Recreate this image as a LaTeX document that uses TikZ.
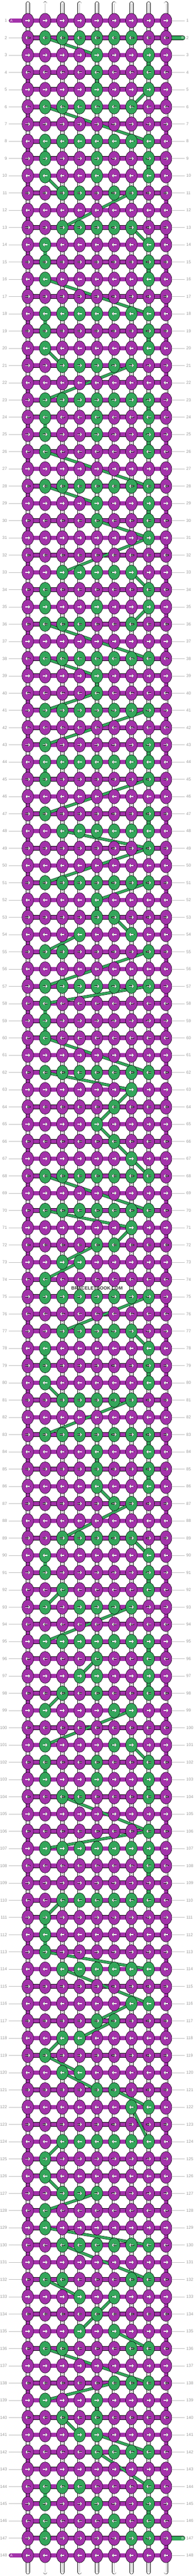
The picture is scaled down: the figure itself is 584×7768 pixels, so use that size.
\documentclass[tikz,border=0pt]{standalone}
\usepackage{fontspec}
\setmainfont{Liberation Sans}
\usetikzlibrary{shapes.geometric,arrows.meta}
\definecolor{strA}{HTML}{A332AA}
\definecolor{strB}{HTML}{33A65A}
\definecolor{numgray}{HTML}{999999}
\definecolor{linegray}{HTML}{BBBBBB}
\definecolor{wmgray}{HTML}{3A3A3A}
\pgfdeclarelayer{bg}
\pgfdeclarelayer{mid}
\pgfsetlayers{bg,mid,main}
\tikzset{
  knot/.style={ellipse, draw=black, line width=0.9pt, minimum width=35pt, minimum height=44pt, inner sep=0pt},
  warp/.style={draw=black, line width=1pt, double=white, double distance=10pt},
  warpline/.style={draw=linegray, line width=0.6pt},
  turnA/.style={draw=black, line width=1pt, double=strA, double distance=10pt},
  turnB/.style={draw=black, line width=1pt, double=strB, double distance=10pt},
  weft/.style={draw=black, line width=0.7pt, double=strA, double distance=12pt},
  weftB/.style={draw=black, line width=0.7pt, double=strB, double distance=12pt},
  band/.style={draw=black, line width=0.8pt, double=strB, double distance=7pt},
  arrowout/.style={black, line width=3.6pt, -{Straight Barb[length=4pt,width=9pt]}},
  arrowin/.style={white, line width=2.2pt, -{Straight Barb[length=4pt,width=9pt]}},
  num/.style={text=numgray, font=\fontsize{12.5}{14}\selectfont, inner sep=0pt, outer xsep=5pt},
  rowline/.style={draw=linegray, line width=0.8pt},
  endlabel/.style={text=white, font=\fontsize{10.5}{12}\selectfont, inner sep=0pt}
}
\begin{document}
\begin{tikzpicture}[x=1pt, y=-1pt]
\useasboundingbox (0,0) rectangle (584,7768);
\begin{pgfonlayer}{bg}
\fill[white] (0,0) rectangle (584,7768);
\end{pgfonlayer}

\foreach \rw/\gl in {1/{0}, 2/{2,3,4,5,6,7}, 3/{5,8}, 4/{5,8}, 5/{5,8}, 6/{2,3,4,5,6,7}, 7/{0}, 8/{2,3,4,5,6,7,8},
  9/{2,5,8}, 10/{2,5,8}, 11/{3,4,6,7}, 12/{0}, 13/{3,4,5,6,7}, 14/{2,8}, 15/{2,8}, 16/{2,8}, 17/{0},
  18/{2,3,4,5,6,7,8}, 19/{2,8}, 20/{2,8}, 21/{3,4,5,6,7}, 22/{0}, 23/{2,3,4,5,6,7,8}, 24/{2,5,8},
  25/{2,5,8}, 26/{2,8}, 27/{0}, 28/{2,3,4,5,6,7,8}, 29/{5,8}, 30/{5,8}, 31/{8}, 32/{0}, 33/{3,4,5,6,7},
  34/{2,8}, 35/{2,5,8}, 36/{2,3,4,7}, 37/{0}, 38/{2,3,4,5,6,7,8}, 39/{5}, 40/{5}, 41/{2,3,4,5,6,7,8},
  42/{0}, 43/{2,8}, 44/{2,3,4,5,6,7,8}, 45/{2,8}, 46/{0}, 47/{2,8}, 48/{3,4,5,6,7,8}, 49/{8}, 50/{0},
  51/{2,3,4,5,6,7,8}, 52/{5}, 53/{5,6}, 54/{4,7}, 55/{2,3,8}, 56/{0}, 57/{2,3,4,5,6,7,8}, 58/{2},
  59/{2}, 60/{2}, 61/{0}, 62/{2,3,4,5,6,7,8}, 63/{7}, 64/{6}, 65/{5}, 66/{6}, 67/{7}, 68/{2,3,4,5,6,7,8},
  69/{0}, 70/{2,3,4,5,6,7,8}, 71/{7}, 72/{5,6}, 73/{3,4}, 74/{2}, 75/{2,3,4,5,6,7,8}, 76/{0},
  77/{3,4,5,6,7}, 78/{2,8}, 79/{2,8}, 80/{2,8}, 81/{3,4,5,6,7}, 82/{0}, 83/{2,3,4,5,6,7,8}, 84/{5,8},
  85/{5,8}, 86/{5,8}, 87/{6,7}, 88/{0}, 89/{3,4,5,6,7}, 90/{2,8}, 91/{2,8}, 92/{3,8}, 93/{2,4,5,6,7},
  94/{0}, 95/{2,3,4,5,6,7,8}, 96/{5,8}, 97/{4,5,8}, 98/{3,5,8}, 99/{2,6,7}, 100/{0}, 101/{2,6,7},
  102/{2,5,8}, 103/{2,5,8}, 104/{3,4,8}, 105/{0}, 106/{8}, 107/{2,3,4,5,6,7,8}, 108/{8}, 109/{0},
  110/{3,4,5,6,7,8}, 111/{2}, 112/{2}, 113/{2}, 114/{3,4,5,6,7,8}, 115/{0}, 116/{7,8}, 117/{5,6},
  118/{3,4}, 119/{2}, 120/{3,4}, 121/{5,6}, 122/{7,8}, 123/{0}, 124/{3,4,5,6,7,8}, 125/{2}, 126/{2},
  127/{3,4,5}, 128/{2}, 129/{2}, 130/{3,4,5,6,7,8}, 131/{0}, 132/{2,3,7,8}, 133/{4,6}, 134/{5},
  135/{4,6}, 136/{2,3,7,8}, 137/{0}, 138/{6,7,8}, 139/{2,5}, 140/{3,5}, 141/{4,5}, 142/{5,6,7,8},
  143/{0}, 144/{2,3,4,8}, 145/{2,5,8}, 146/{2,6,8}, 147/{2,7,8}, 148/{0}}
  {\foreach \cl in \gl {\expandafter\xdef\csname gk@\rw @\cl\endcsname{1}}}

\foreach \rw in {1,...,148} {
  \foreach \cl in {1,...,9} {
    \ifcsname gk@\rw @\cl\endcsname\def\kfill{strB}\else\def\kfill{strA}\fi
    \node[knot, fill=\kfill] (k-\rw-\cl) at ({31.8+52*\cl},{10+52*\rw}) {};
    \ifodd\rw\relax
      \draw[arrowout] ([xshift=-7.5pt]k-\rw-\cl.center) -- ([xshift=7.5pt]k-\rw-\cl.center);
      \draw[arrowin] ([xshift=-7pt]k-\rw-\cl.center) -- ([xshift=7pt]k-\rw-\cl.center);
    \else
      \draw[arrowout] ([xshift=7.5pt]k-\rw-\cl.center) -- ([xshift=-7.5pt]k-\rw-\cl.center);
      \draw[arrowin] ([xshift=7pt]k-\rw-\cl.center) -- ([xshift=-7pt]k-\rw-\cl.center);
    \fi
  }
  \node[num, anchor=east] (ln-\rw) at (26,{10+52*\rw}) {\rw};
  \node[num, anchor=west] (rn-\rw) at (556,{10+52*\rw}) {\rw};
  \ifnum\rw=1\relax\else\ifnum\rw=148\relax\else
    \draw[rowline] (ln-\rw) -- (k-\rw-1);
  \fi\fi
  \ifnum\rw=2\relax\else\ifnum\rw=147\relax\else
    \draw[rowline] (k-\rw-9) -- (rn-\rw);
  \fi\fi
}

\foreach \cl in {1,...,9} {
  \coordinate (top-\cl) at ({31.8+52*\cl},10.5);
  \coordinate (bot-\cl) at ({31.8+52*\cl},7756.5);
}
\coordinate (a-in) at (33.3,62);
\coordinate (a-out) at (33.3,7706);
\coordinate (b-in) at (550.7,114);
\coordinate (b-out) at (550.7,7654);

\begin{pgfonlayer}{bg}
\foreach \cl in {1,...,9} {
  \draw[warp, line cap=round] (top-\cl) -- (bot-\cl);
  \draw[warpline] (top-\cl) -- (bot-\cl);
}
\foreach \rw in {1,...,148} {
  \draw[weft] (k-\rw-1.center) -- (k-\rw-9.center);
}
\draw[weft, line cap=round] (a-in) -- (k-1-1.center);
\draw[weft, line cap=round] (a-out) -- (k-148-1.center);
\draw[weftB, line cap=round] (k-2-9.center) -- (b-in);
\draw[weftB, line cap=round] (k-147-9.center) -- (b-out);
\end{pgfonlayer}

\begin{pgfonlayer}{mid}
\foreach \rw in {1,...,147} {
  \pgfmathtruncatemacro\rn{\rw+1}
  \ifodd\rw\relax\def\tc{9}\else\def\tc{1}\fi
  \draw[turnA] (k-\rw-\tc.center) -- (k-\rn-\tc.center);
}
\gdef\prevr{0}\gdef\prevc{0}
\foreach \rw in {1,...,148} {
  \ifodd\rw\relax\def\clist{1,2,3,4,5,6,7,8,9}\else\def\clist{9,8,7,6,5,4,3,2,1}\fi
  \foreach \cl in \clist {
    \ifcsname gk@\rw @\cl\endcsname
      \ifnum\prevr>0\relax\ifnum\prevr<\rw\relax
        \ifnum\prevc=\cl\relax
          \draw[turnB] (k-\prevr-\prevc.center) -- (k-\rw-\cl.center);
        \else
          \draw[band] (k-\prevr-\prevc.center) -- (k-\rw-\cl.center);
        \fi
      \fi\fi
      \xdef\prevr{\rw}\xdef\prevc{\cl}
    \fi
  }
}
\end{pgfonlayer}

\node[endlabel] (lab-a1) at (34.5,62) {A};
\node[endlabel] (lab-a2) at (34.5,7706) {A};
\node[endlabel] (lab-b1) at (550.2,114) {B};
\node[endlabel] (lab-b2) at (550.2,7654) {B};
\node[font=\bfseries\fontsize{14}{16}\selectfont, text=wmgray, inner sep=0pt] (mark) at (292,3884) {BRACELETBOOK.COM};
\end{tikzpicture}
\end{document}
